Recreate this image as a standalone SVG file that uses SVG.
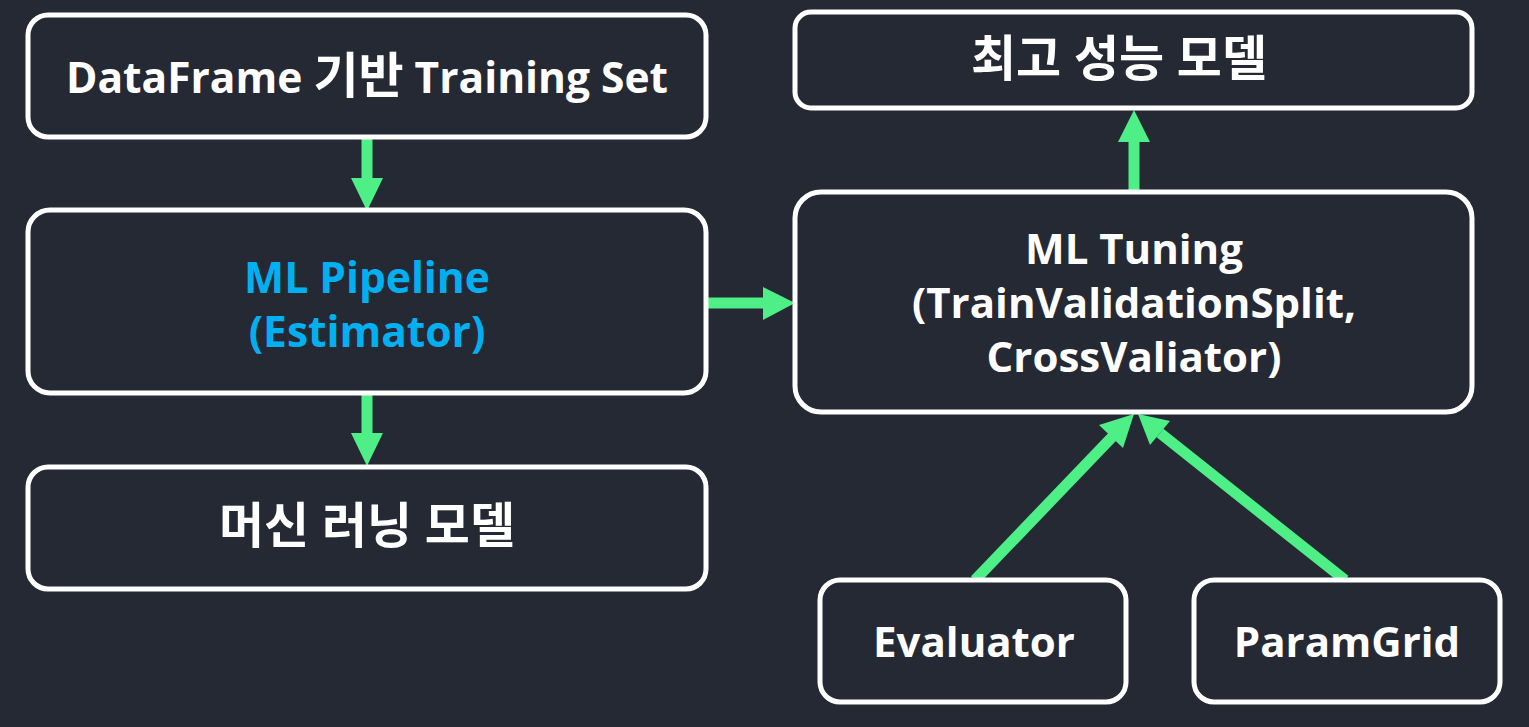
<svg xmlns="http://www.w3.org/2000/svg" width="1529" height="727" viewBox="0 0 1529 727">
<defs>
<style>
.box{fill:#252934;stroke:#ffffff;stroke-width:5}
.t{font-family:"Open Sans","Noto Sans CJK KR",sans-serif;font-weight:bold;font-size:42px;fill:#ffffff;text-anchor:middle}
.k{font-size:49px}
.blue{fill:#00b0f0}
.ln{stroke:#4def86;stroke-width:11;fill:none}
.hd{fill:#4def86}
</style>
</defs>
<rect width="1529" height="727" fill="#252934"/>
<g id="connectors">
<line class="ln" x1="367" y1="139" x2="367" y2="180"/><polygon class="hd" points="351,178 383,178 367,211"/>
<line class="ln" x1="367" y1="395" x2="367" y2="435"/><polygon class="hd" points="351,433 383,433 367,466"/>
<line class="ln" x1="707" y1="303" x2="765" y2="303"/><polygon class="hd" points="763,287 763,320 795,303"/>
<line class="ln" x1="1134" y1="192" x2="1134" y2="140"/><polygon class="hd" points="1118,142 1150,142 1134,110"/>
<line class="ln" x1="975" y1="580" x2="1115" y2="434"/><polygon class="hd" points="1099,425 1123,448 1134,414"/>
<line class="ln" x1="1345" y1="580" x2="1160" y2="433"/><polygon class="hd" points="1150,445 1170,421 1138,414"/>
</g>
<g id="n1"><rect class="box" x="28" y="15" width="678" height="122" rx="20"/><text class="t" x="367" y="93" style="font-size:42.5px">DataFrame <tspan class="k">기반</tspan> Training Set</text></g>
<g id="n2"><rect class="box" x="28" y="210" width="678" height="183" rx="22"/><text class="t blue" x="367" y="293" style="font-size:42.5px">ML Pipeline</text><text class="t blue" x="367" y="347" style="font-size:42.5px">(Estimator)</text></g>
<g id="n3"><rect class="box" x="28" y="467" width="678" height="122" rx="20"/><text class="t k" x="367" y="543">머신 러닝 모델</text></g>
<g id="n4"><rect class="box" x="795" y="12" width="677" height="96" rx="16"/><text class="t k" x="1119" y="76">최고 성능 모델</text></g>
<g id="n5"><rect class="box" x="795" y="192" width="677" height="220" rx="26"/><text class="t" x="1134" y="264">ML Tuning</text><text class="t" x="1134" y="318">(TrainValidationSplit,</text><text class="t" x="1134" y="372">CrossValiator)</text></g>
<g id="n6"><rect class="box" x="820" y="580" width="306" height="122" rx="20"/><text class="t" x="974" y="657">Evaluator</text></g>
<g id="n7"><rect class="box" x="1194" y="580" width="306" height="122" rx="20"/><text class="t" x="1347" y="657">ParamGrid</text></g>
</svg>
